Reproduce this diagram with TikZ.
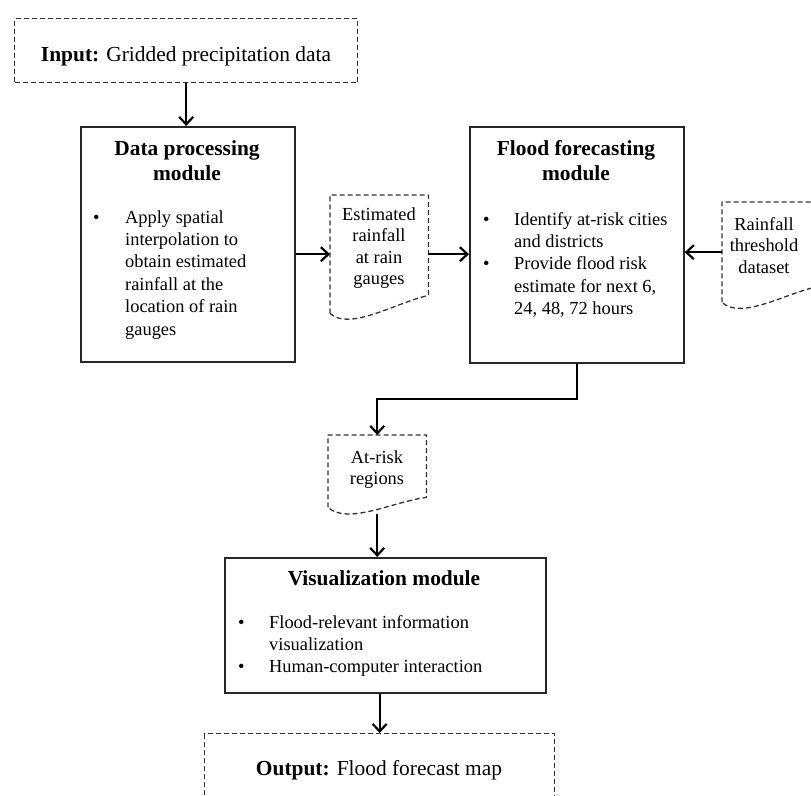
\documentclass[tikz,border=0pt]{standalone}
\usepackage{fontspec}
\setmainfont{Liberation Serif}
\usetikzlibrary{arrows.meta,calc}
\newcommand\docoutline[2]{%
  \draw[dashline] (#1.south west) -- (#1.north west) -- (#1.north east) -- ($(#1.south east)+(0,-#2)$)
    .. controls ($(#1.south east)!0.33!(#1.south west)+(0,-#2*0.6)$) and ($(#1.south west)!0.2!(#1.south east)+(0,18)$) .. (#1.south west);}
\begin{document}
\begin{tikzpicture}[x=1pt,y=-1pt,
  box/.style={draw=black!85,line width=1.7pt,inner sep=0pt},
  dashbox/.style={draw=black!80,line width=1.3pt,dash pattern=on 5pt off 3pt,inner sep=0pt},
  docarea/.style={inner sep=0pt},
  dashline/.style={draw=black!80,line width=1.3pt,dash pattern=on 5pt off 3pt,line join=round},
  arr/.style={line width=2.2pt,-{Straight Barb[length=7.5pt,width=14pt,line width=2.2pt]}},
  big/.style={font=\fontsize{21.4}{25}\selectfont,inner sep=0pt},
  body/.style={font=\fontsize{18.4}{22.4}\selectfont,inner sep=0pt},
  doctext/.style={font=\fontsize{18.4}{21.5}\selectfont,inner sep=0pt},
  ]
\useasboundingbox (0,0) rectangle (811,795);
\clip (0,0) rectangle (811,795);
\fill[white] (0,0) rectangle (811,795);

% boxes
\node[dashbox, minimum width=343, minimum height=64, anchor=north west] (inp) at (14,18) {};
\node[box, minimum width=214, minimum height=235, anchor=north west] (dp) at (80,126) {};
\node[box, minimum width=214, minimum height=236, anchor=north west] (ff) at (469,126) {};
\node[box, minimum width=321, minimum height=135, anchor=north west] (vis) at (224,557) {};
\node[dashbox, minimum width=350, minimum height=100, anchor=north west] (out) at (204,733) {};

% document shapes
\node[docarea, minimum width=98, minimum height=118, anchor=north west] (est) at (330,195) {};
\docoutline{est}{18}
\node[docarea, minimum width=96, minimum height=100, anchor=north west] (thr) at (722,202) {};
\docoutline{thr}{16}
\node[docarea, minimum width=98, minimum height=72, anchor=north west] (ar) at (328,435) {};
\docoutline{ar}{10}

% texts
\node[big, anchor=base] (inptxt) at (186,61) {\textbf{Input:} Gridded precipitation data};
\node[big, anchor=base] (outtxt) at (379,775) {\textbf{Output:} Flood forecast map};

\node[big, anchor=base, font=\fontsize{21.4}{25}\selectfont\bfseries] (dptitle) at (187,155)
  {\begin{tabular}[t]{@{}c@{}}Data processing\\module\end{tabular}};
\node[big, anchor=base, font=\fontsize{21.4}{25}\selectfont\bfseries] (fftitle) at (576,155)
  {\begin{tabular}[t]{@{}c@{}}Flood forecasting\\module\end{tabular}};
\node[big, anchor=base, font=\fontsize{21.4}{25}\selectfont\bfseries] (vistitle) at (384,585)
  {Visualization module};

\node[body, anchor=base west] (dplist) at (93,223)
  {\begin{tabular}[t]{@{}p{32pt}@{}l@{}}
  •&Apply spatial\\
   &interpolation to\\
   &obtain estimated\\
   &rainfall at the\\
   &location of rain\\
   &gauges
  \end{tabular}};
\node[body, anchor=base west] (fflist) at (483,225)
  {\begin{tabular}[t]{@{}p{31pt}@{}l@{}}
  •&Identify at-risk cities\\
   &and districts\\
  •&Provide flood risk\\
   &estimate for next 6,\\
   &24, 48, 72 hours
  \end{tabular}};
\node[body, anchor=base west] (vislist) at (238,628)
  {\begin{tabular}[t]{@{}p{31pt}@{}l@{}}
  •&Flood-relevant information\\
   &visualization\\
  •&Human-computer interaction
  \end{tabular}};

\node[doctext, anchor=base] (esttxt) at (379,220)
  {\begin{tabular}[t]{@{}c@{}}Estimated\\rainfall\\at rain\\gauges\end{tabular}};
\node[doctext, anchor=base] (thrtxt) at (764,230)
  {\begin{tabular}[t]{@{}c@{}}Rainfall\\threshold\\dataset\end{tabular}};
\node[doctext, anchor=base] (artxt) at (377,463)
  {\begin{tabular}[t]{@{}c@{}}At-risk\\regions\end{tabular}};

% connectors
\draw[arr] (inp.south) -- (inp.south |- dp.north);
\draw[arr] (dp.east |- est.west) -- (est.west);
\draw[arr] (est.east) -- (est.east -| ff.west);
\draw[arr] (thr.west) -- (thr.west -| ff.east);
\draw[arr] (ff.south) -- ++(0,35) -| (ar.north);
\draw[arr] ($(ar.south)+(0,7)$) -- (ar.south |- vis.north);
\draw[arr] (out.north |- vis.south) -- (out.north);
\end{tikzpicture}
\end{document}
